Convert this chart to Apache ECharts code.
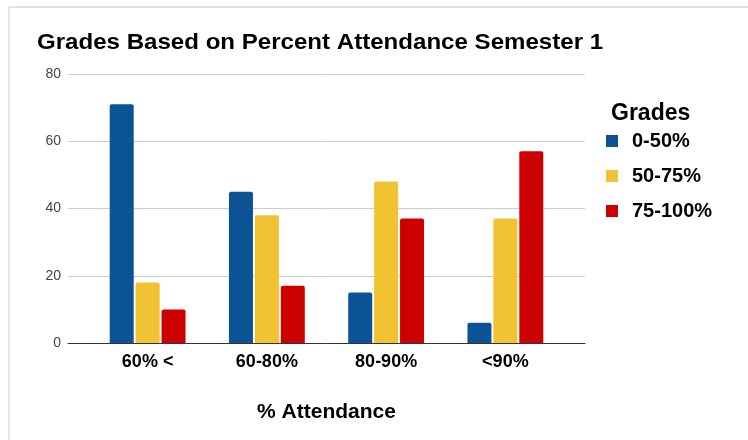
<!DOCTYPE html>
<html>
<head>
<meta charset="utf-8">
<script src="https://cdn.jsdelivr.net/npm/echarts@6/dist/echarts.min.js"></script>
<style>
  html, body { margin: 0; padding: 0; background: #fff; }
  #chart1 { width: 748px; height: 440px; }
</style>
</head>
<body>
<div id="chart1"></div>
<script>
var categories = ['60% <', '60-80%', '80-90%', '<90%'];
var seriesNames = ['0-50%', '50-75%', '75-100%'];
var low = [71, 45, 15, 6];
var mid = [18, 38, 48, 37];
var high = [10, 17, 37, 57];
var yTicks = { min: 0, max: 80, interval: 20 };
var colors = ['#0b5394', '#f1c232', '#cc0000'];

var font = '"Liberation Sans", Arial, sans-serif';
var myChart1 = echarts.init(document.getElementById('chart1'));

function bar(name, data, color) {
    return {
        name: name,
        type: 'bar',
        xAxisIndex: 1,
        yAxisIndex: 1,
        data: data,
        barWidth: 24,
        barGap: '8%',
        itemStyle: { color: color, borderRadius: [2, 2, 0, 0] }
    };
}

myChart1.setOption({
    animation: false,
    textStyle: { fontFamily: font },
    graphic: [{
        type: 'rect',
        shape: { x: 9, y: 7, width: 760, height: 460 },
        style: { fill: 'none', stroke: '#c8c8c8', lineWidth: 1 }
    }, {
        // chart title, a little wider than plain Arial as in the original
        type: 'text',
        x: 37,
        y: 31,
        scaleX: 1.12,
        scaleY: 1.05,
        style: {
            text: 'Grades Based on Percent Attendance Semester 1',
            font: 'bold 21.5px ' + font,
            fill: '#000',
            textVerticalAlign: 'top'
        }
    }],
    title: {
        text: 'Grades',
        left: 606,
        top: 97,
        textStyle: { fontFamily: font, fontSize: 23, fontWeight: 'bold', color: '#000' }
    },
    legend: {
        data: seriesNames,
        orient: 'vertical',
        left: 601,
        top: 126,
        icon: 'rect',
        itemWidth: 12,
        itemHeight: 12,
        itemGap: 15,
        textStyle: { fontFamily: font, fontSize: 20, fontWeight: 'bold', color: '#000', padding: [0, 0, 0, 9] }
    },
    grid: [
        { left: 68, right: 163, top: 74, bottom: 97 },
        { left: 88, right: 183, top: 74, bottom: 97 }
    ],
    xAxis: [{
        gridIndex: 0,
        type: 'category',
        data: categories,
        axisTick: { show: false },
        axisLabel: { show: false },
        axisLine: { lineStyle: { color: '#333', width: 1 } }
    }, {
        gridIndex: 1,
        type: 'category',
        data: categories,
        name: '% Attendance',
        nameLocation: 'middle',
        nameGap: 59,
        nameTextStyle: { fontFamily: font, fontSize: 21, fontWeight: 'bold', color: '#000' },
        axisTick: { show: false },
        axisLine: { show: false },
        axisLabel: { fontFamily: font, fontSize: 18, fontWeight: 'bold', color: '#000', margin: 10 }
    }],
    yAxis: [{
        gridIndex: 0,
        type: 'value',
        min: yTicks.min,
        max: yTicks.max,
        interval: yTicks.interval,
        axisLine: { show: false },
        axisTick: { show: false },
        splitLine: { lineStyle: { color: '#cccccc' } },
        axisLabel: { fontFamily: font, fontSize: 14, color: '#444', margin: 7 }
    }, {
        gridIndex: 1,
        type: 'value',
        min: yTicks.min,
        max: yTicks.max,
        interval: yTicks.interval,
        show: false
    }],
    series: [
        bar(seriesNames[0], low, colors[0]),
        bar(seriesNames[1], mid, colors[1]),
        bar(seriesNames[2], high, colors[2])
    ]
});
</script>
</body>
</html>
